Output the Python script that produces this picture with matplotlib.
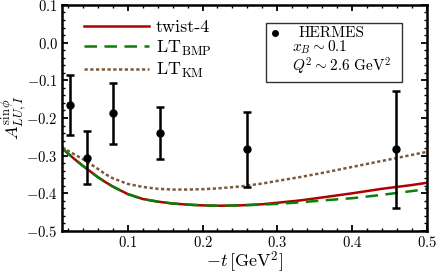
"""HERMES beam-spin asymmetry A_LU,I^sin(phi) vs -t, with model curves."""

import matplotlib
matplotlib.use("Agg")
import matplotlib.pyplot as plt
from matplotlib.patches import Rectangle
from matplotlib.ticker import MultipleLocator

plt.rcParams["font.family"] = "cmr10"
plt.rcParams["mathtext.fontset"] = "cm"
plt.rcParams["axes.formatter.use_mathtext"] = True

# HERMES data points
t_data = [0.023, 0.045, 0.080, 0.143, 0.259, 0.459]
a_data = [-0.165, -0.305, -0.188, -0.240, -0.283, -0.283]
a_err = [0.080, 0.070, 0.080, 0.070, 0.100, 0.155]

# model curves
t_curve = [0.012, 0.02, 0.03, 0.04, 0.05, 0.06, 0.07, 0.08, 0.10, 0.12, 0.14,
           0.16, 0.18, 0.20, 0.22, 0.25, 0.28, 0.30, 0.33, 0.36, 0.40, 0.44,
           0.48, 0.50]
twist4 = [-0.280, -0.294, -0.311, -0.327, -0.342, -0.357, -0.370, -0.382,
          -0.402, -0.415, -0.422, -0.427, -0.430, -0.432, -0.433, -0.432,
          -0.429, -0.425, -0.419, -0.411, -0.400, -0.388, -0.378, -0.372]
lt_bmp = [-0.280, -0.294, -0.311, -0.327, -0.342, -0.357, -0.370, -0.382,
          -0.402, -0.415, -0.422, -0.427, -0.430, -0.432, -0.433, -0.432,
          -0.430, -0.428, -0.424, -0.419, -0.413, -0.404, -0.394, -0.389]
lt_km = [-0.278, -0.287, -0.298, -0.309, -0.322, -0.335, -0.349, -0.360,
         -0.375, -0.383, -0.388, -0.390, -0.390, -0.389, -0.387, -0.382,
         -0.374, -0.367, -0.357, -0.346, -0.330, -0.314, -0.298, -0.290]

fig = plt.figure(figsize=(4.36, 2.75), dpi=100)
ax = fig.add_axes([0.142, 0.16, 0.837, 0.822])

ax.plot(t_curve, twist4, color="#b00000", lw=1.8, label="twist-4")
ax.plot(t_curve, lt_bmp, color="#0a7f0a", lw=1.8, dashes=(5, 3),
        label=r"LT$_{\mathrm{BMP}}$")
ax.plot(t_curve, lt_km, color="#7b5a3b", lw=1.8, dashes=(1.3, 1),
        label=r"LT$_{\mathrm{KM}}$")
ax.errorbar(t_data, a_data, yerr=a_err, fmt="o", color="black", ms=5,
            elinewidth=1.8, capsize=3, capthick=1.8)

ax.set_xlim(0.012, 0.5)
ax.set_ylim(-0.5, 0.1)
ax.xaxis.set_major_locator(MultipleLocator(0.1))
ax.xaxis.set_minor_locator(MultipleLocator(0.02))
ax.yaxis.set_major_locator(MultipleLocator(0.1))
ax.yaxis.set_minor_locator(MultipleLocator(0.02))
ax.tick_params(which="both", direction="in", top=True, right=True,
               labelsize=10.5, pad=3)
ax.tick_params(which="major", length=4, width=1.3)
ax.tick_params(which="minor", length=2.5, width=1.0)
for s in ax.spines.values():
    s.set_linewidth(1.8)

ax.set_xlabel(r"$-t\,[\mathrm{GeV}^2]$", fontsize=13, labelpad=0)
ax.set_ylabel(r"$A_{LU,I}^{\sin\phi}$", fontsize=13, labelpad=-2)

ax.legend(loc="upper left", bbox_to_anchor=(0.02, 1.0), frameon=False,
          fontsize=13, handlelength=3.6, handletextpad=0.4, labelspacing=0.2,
          borderpad=0.3)

# HERMES info box
ax.add_patch(Rectangle((0.559, 0.66), 0.373, 0.26, transform=ax.transAxes,
                       fill=True, fc="white", ec="#333333", lw=1.0,
                       zorder=4))
ax.plot([0.585], [0.875], "o", color="black", ms=4, transform=ax.transAxes,
        zorder=5)
ax.text(0.648, 0.875, "HERMES", transform=ax.transAxes, fontsize=11,
        va="center", ha="left", zorder=5)
ax.text(0.630, 0.812, r"$x_B \sim 0.1$", transform=ax.transAxes,
        fontsize=11, va="center", ha="left", zorder=5)
ax.text(0.630, 0.730, r"$Q^2 \sim 2.6\ \mathrm{GeV}^2$",
        transform=ax.transAxes, fontsize=11, va="center", ha="left",
        zorder=5)

fig.savefig("out.png", dpi=100)
